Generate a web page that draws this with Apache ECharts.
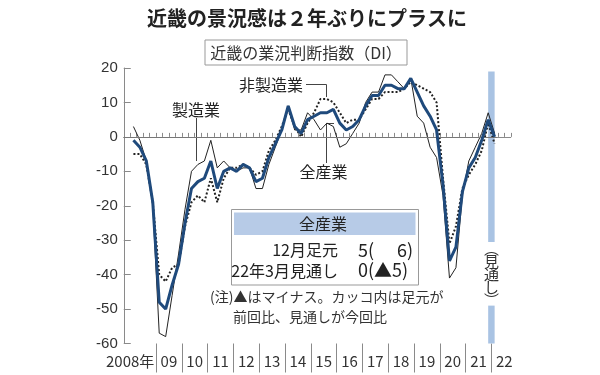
<!DOCTYPE html>
<html>
<head>
<meta charset="utf-8">
<script src="https://cdn.jsdelivr.net/npm/echarts@6/dist/echarts.min.js"></script>
<style>
  html, body { margin: 0; padding: 0; background: #fff; }
  #chart { width: 600px; height: 375px; }
</style>
</head>
<body>
<div id="chart"></div>
<script>
  const JP = '"Noto Sans CJK JP", sans-serif';
  const NUM = '"Liberation Sans", Arial, sans-serif';

  // 四半期（2008年3月〜2022年3月見通し）
  const quarters = [];
  for (let y = 2008; y <= 2022; y++) {
    for (const m of [3, 6, 9, 12]) {
      if (y === 2022 && m > 3) break;
      quarters.push(y + "/" + m);
    }
  }

  // 製造業
  const manufacturing = [
    3, -1, -7, -20,
    -57, -58, -46, -34,
    -21, -10, -8, -7,
    -1, -9, -7, -9,
    -10, -9, -9, -15,
    -15, -8, -3, 2,
    9, 2, 2, 7,
    5, 2, 4, 3,
    -3, -2, 1, 4,
    10, 13, 13, 18,
    18, 16, 14, 17,
    6, 4, -3, -6,
    -17, -41, -38, -17,
    -7, -3, 1, 7,
    1
  ];
  // 非製造業
  const nonManufacturing = [
    -5, -5, -8, -19,
    -40, -42, -38, -37,
    -26, -19, -17, -19,
    -12, -19, -12, -9,
    -9, -8, -9, -11,
    -10, -4, -1, 3,
    8, 3, 0, 4,
    7, 11, 11, 10,
    7, 4, 5, 5,
    8, 11, 11, 13,
    13, 13, 14, 16,
    15, 14, 13, 10,
    -12, -31, -26, -15,
    -11, -8, -4, 4,
    -2
  ];
  // 全産業
  const allIndustries = [
    -1, -3, -7, -19,
    -48, -50, -43, -37,
    -25, -15, -13, -12,
    -7, -15, -10, -9,
    -10, -8, -9, -13,
    -12, -6, -2, 2,
    9, 3, 1, 5,
    6, 7, 7, 8,
    4, 2, 3, 5,
    9, 12, 12, 15,
    15, 14, 14, 17,
    13, 9, 6, 2,
    -14, -36, -32, -16,
    -9, -6, -1, 5,
    0
  ];

  const yTicks = [-60, -50, -40, -30, -20, -10, 0, 10, 20];
  const yearBreaks = [2009, 2010, 2011, 2012, 2013, 2014, 2015, 2016, 2017, 2018, 2019, 2020, 2021, 2022];
  const yearLabels = ["2008年", "09", "10", "11", "12", "13", "14", "15", "16", "17", "18", "19", "20", "21", "22"];

  const X_MIN = 2007.75;
  const X_MAX = 2022.75;
  const labelPos = yearLabels.map((s, i) => (i === 0 ? 2008 : 2008 + i + 0.5));

  // 四半期 → 横軸の値（四半期の中央）
  function qx(q) {
    const [y, m] = q.split("/").map(Number);
    return y + (m - 1.5) / 12;
  }
  const toPairs = arr => arr.map((v, i) => [qx(quarters[i]), v]);

  const forecastFrom = qx("2021/12");
  const forecastTo = qx("2022/3");

  const chart = echarts.init(document.getElementById("chart"), null, { renderer: "canvas" });

  const option = {
    animation: false,
    backgroundColor: "#fff",
    grid: { left: 123.75, right: 89.25, top: 68, bottom: 31.5, containLabel: false },
    xAxis: [
      {
        type: "value",
        min: X_MIN,
        max: X_MAX,
        interval: 0.25,
        axisLine: { lineStyle: { color: "#8a8a8a", width: 1 } },
        axisTick: { inside: true, length: 4, lineStyle: { color: "#8a8a8a" } },
        axisLabel: { show: false },
        splitLine: { show: false }
      },
      {
        type: "value",
        min: X_MIN,
        max: X_MAX,
        position: "bottom",
        axisLine: { show: false },
        axisTick: { show: true, customValues: yearBreaks, length: 29, lineStyle: { color: "#8a8a8a" } },
        axisLabel: {
          customValues: labelPos,
          formatter: v => (v < 2009 ? yearLabels[0] : yearLabels[Math.floor(v) - 2008]),
          margin: 10,
          fontFamily: JP,
          fontSize: 15,
          color: "#333"
        },
        splitLine: { show: false }
      }
    ],
    yAxis: {
      type: "value",
      min: yTicks[0],
      max: yTicks[yTicks.length - 1],
      interval: 10,
      axisLine: { show: true, lineStyle: { color: "#8a8a8a" } },
      axisTick: { inside: true, length: 7, lineStyle: { color: "#8a8a8a" } },
      axisLabel: { fontFamily: NUM, fontSize: 15, color: "#333", margin: 6 },
      splitLine: { show: false }
    },
    series: [
      {
        name: "製造業",
        type: "line",
        data: toPairs(manufacturing),
        showSymbol: false,
        lineStyle: { color: "#222", width: 1 },
        z: 3,
        markLine: {
          silent: true,
          symbol: "none",
          label: { show: false },
          lineStyle: { color: "#777", width: 1, type: "solid" },
          data: [[{ coord: [X_MIN, 0] }, { coord: [2022.22, 0] }]]
        },
        markArea: {
          silent: true,
          itemStyle: { color: "#a9c3e3" },
          data: [
            [{ coord: [forecastFrom, 19] }, { coord: [forecastTo, -30.5] }],
            [{ coord: [forecastFrom, -49] }, { coord: [forecastTo, -60] }]
          ]
        }
      },
      {
        name: "非製造業",
        type: "line",
        data: toPairs(nonManufacturing),
        showSymbol: false,
        lineStyle: { color: "#222", width: 2, type: [2, 2] },
        z: 4
      },
      {
        name: "全産業",
        type: "line",
        data: toPairs(allIndustries),
        showSymbol: false,
        lineStyle: { color: "#1f4a7c", width: 3 },
        z: 5
      }
    ],
    graphic: [
      // タイトル
      {
        type: "text", x: 307, y: 18,
        style: { text: "近畿の景況感は２年ぶりにプラスに", font: "bold 20px " + JP, fill: "#222", align: "center", verticalAlign: "middle" }
      },
      {
        type: "rect", shape: { x: 205, y: 40, width: 202, height: 25 },
        style: { fill: "#fff", stroke: "#999", lineWidth: 1 }
      },
      {
        type: "text", x: 306, y: 52.5,
        style: { text: "近畿の業況判断指数（DI）", font: "16px " + JP, fill: "#333", align: "center", verticalAlign: "middle" }
      },
      // 系列ラベル
      {
        type: "text", x: 196, y: 110,
        style: { text: "製造業", font: "16px " + JP, fill: "#222", align: "center", verticalAlign: "middle" }
      },
      { type: "polyline", shape: { points: [[196.5, 118], [196.5, 161]] }, style: { stroke: "#444", lineWidth: 1 } },
      {
        type: "text", x: 271, y: 85,
        style: { text: "非製造業", font: "16px " + JP, fill: "#222", align: "center", verticalAlign: "middle" }
      },
      { type: "polyline", shape: { points: [[306, 84.5], [326.5, 84.5], [326.5, 97]] }, style: { stroke: "#444", lineWidth: 1 } },
      {
        type: "text", x: 323.5, y: 172,
        style: { text: "全産業", font: "16px " + JP, fill: "#222", align: "center", verticalAlign: "middle" }
      },
      { type: "polyline", shape: { points: [[334, 123.5], [326.5, 123.5], [326.5, 163]] }, style: { stroke: "#444", lineWidth: 1 } },
      // 見通し
      {
        type: "text", x: 491.5, y: 274,
        style: { text: "︵\n見\n通\nし\n︶", font: "15px " + JP, lineHeight: 13, fill: "#333", align: "center", verticalAlign: "middle" }
      },
      // 表
      {
        type: "rect", shape: { x: 231.5, y: 209.5, width: 187, height: 75.5 },
        style: { fill: "#fff", stroke: "#999", lineWidth: 1 }, z: 100
      },
      {
        type: "rect", shape: { x: 234, y: 212.5, width: 181.5, height: 22.5 },
        style: { fill: "#b7cbe7" }, z: 101
      },
      {
        type: "text", x: 323, y: 224, z: 102,
        style: { text: "全産業", font: "16px " + JP, fill: "#222", align: "center", verticalAlign: "middle" }
      },
      {
        type: "text", x: 338, y: 250, z: 102,
        style: { text: "12月足元", font: "16px " + JP, fill: "#222", align: "right", verticalAlign: "middle" }
      },
      {
        type: "text", x: 338, y: 270.5, z: 102,
        style: { text: "22年3月見通し", font: "16px " + JP, fill: "#222", align: "right", verticalAlign: "middle" }
      },
      {
        type: "text", x: 358, y: 250, z: 102,
        style: { text: "5(", font: "18px " + JP, fill: "#222", align: "left", verticalAlign: "middle" }
      },
      {
        type: "text", x: 413, y: 250, z: 102,
        style: { text: "6)", font: "18px " + JP, fill: "#222", align: "right", verticalAlign: "middle" }
      },
      {
        type: "text", x: 358, y: 270.5, z: 102,
        style: { text: "0(▲5)", font: "18px " + JP, fill: "#222", align: "left", verticalAlign: "middle" }
      },
      // 注
      {
        type: "text", x: 210, y: 297,
        style: { text: "(注)▲はマイナス。カッコ内は足元が", font: "14px " + JP, fill: "#333", align: "left", verticalAlign: "middle" }
      },
      {
        type: "text", x: 233, y: 317,
        style: { text: "前回比、見通しが今回比", font: "14px " + JP, fill: "#333", align: "left", verticalAlign: "middle" }
      }
    ]
  };

  chart.setOption(option);
</script>
</body>
</html>
